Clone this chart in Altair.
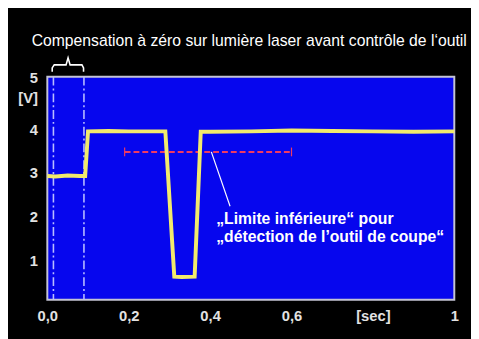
import altair as alt
import pandas as pd

# Signal trace (time in s, voltage in V)
t_vals = [0, 0.02, 0.05, 0.08, 0.093, 0.1, 0.15, 0.2, 0.25, 0.29, 0.312, 0.33, 0.362, 0.377, 0.4, 0.5, 0.6, 0.7, 0.8, 0.9, 1.0]
v_vals = [2.93, 2.92, 2.94, 2.93, 2.93, 3.95, 3.96, 3.95, 3.95, 3.95, 0.63, 0.62, 0.63, 3.94, 3.94, 3.95, 3.97, 3.96, 3.95, 3.94, 3.95]

# zero-compensation window
window_x = [0.015, 0.09]

# lower limit line
limit_y = 3.48
limit_x0, limit_x1 = 0.19, 0.6

# brace above the window
brace_x = [0.012, 0.012, 0.017, 0.046, 0.051, 0.056, 0.085, 0.089, 0.089]
brace_y = [5.31, 5.40, 5.47, 5.47, 5.63, 5.47, 5.47, 5.40, 5.31]

# callout
callout_x = [0.403, 0.449]
callout_y = [3.48, 2.24]
label_lines = ["\u201eLimite inférieure\u201c pour", "\u201edétection de l\u2019outil de coupe\u201c"]
label_y = [1.94, 1.54]
label_x = 0.415

title_text = "Compensation à zéro sur lumière laser avant contrôle de l\u2018outil"
title_x = 0.496
title_y = 6.02

x_ticks = [0, 0.2, 0.4, 0.6, 0.8, 1]
y_ticks = [1, 2, 3, 4, 4.72, 5.17]

FONT = "Liberation Sans"
xs = alt.Scale(domain=[0, 1], nice=False)
ys = alt.Scale(domain=[0.1, 5.2], nice=False)

sig = pd.DataFrame({"t": t_vals, "v": v_vals})
line = alt.Chart(sig).mark_line(color="#f2ea6c", strokeWidth=4, strokeJoin="miter").encode(
    x=alt.X("t:Q", scale=xs, axis=alt.Axis(
        values=x_ticks, title=None, grid=False, domain=False, ticks=False,
        labelExpr="datum.value == 0 ? '0,0' : datum.value > 0.99 ? '1' : datum.value > 0.7 ? '[sec]' : replace(format(datum.value, '.1f'), '.', ',')",
        labelFont=FONT, labelFontSize=15, labelFontWeight="bold", labelColor="#e2e2e2",
        labelPadding=9, labelFlush=False)),
    y=alt.Y("v:Q", scale=ys, axis=alt.Axis(
        values=y_ticks, title=None, grid=False, domain=False, ticks=False,
        labelExpr="datum.value > 5 ? '5' : datum.value > 4.5 ? '[V]' : format(datum.value, 'd')",
        labelFont=FONT, labelFontSize=15, labelFontWeight="bold", labelColor="#e2e2e2",
        labelPadding=10, labelFlush=False)),
)

win = alt.Chart(pd.DataFrame({"x": window_x})).mark_rule(
    color="#b8bcff", strokeWidth=1.6, strokeDash=[9, 3, 2, 3]
).encode(x=alt.X("x:Q", scale=xs))

lim = alt.Chart(pd.DataFrame({"x": [limit_x0], "x2": [limit_x1], "y": [limit_y]})).mark_rule(
    color="#ee3a62", strokeWidth=2, strokeDash=[6, 3]
).encode(x=alt.X("x:Q", scale=xs), x2="x2:Q", y=alt.Y("y:Q", scale=ys))

caps = alt.Chart(pd.DataFrame({"x": [limit_x0, limit_x1], "y": [limit_y - 0.1] * 2, "y2": [limit_y + 0.1] * 2})).mark_rule(
    color="#ee3a62", strokeWidth=1.2
).encode(x=alt.X("x:Q", scale=xs), y=alt.Y("y:Q", scale=ys), y2="y2:Q")

brace = alt.Chart(pd.DataFrame({"x": brace_x, "y": brace_y, "o": list(range(len(brace_x)))})).mark_line(
    color="white", strokeWidth=1.6, interpolate="linear"
).encode(x=alt.X("x:Q", scale=xs), y=alt.Y("y:Q", scale=ys), order="o:O")

callout = alt.Chart(pd.DataFrame({"x": callout_x, "y": callout_y})).mark_line(
    color="white", strokeWidth=1.2
).encode(x=alt.X("x:Q", scale=xs), y=alt.Y("y:Q", scale=ys))

labels = alt.Chart(pd.DataFrame({"x": [label_x] * 2, "y": label_y, "txt": label_lines})).mark_text(
    align="left", baseline="middle", color="white", font=FONT, fontSize=16, fontWeight="bold"
).encode(x=alt.X("x:Q", scale=xs), y=alt.Y("y:Q", scale=ys), text="txt:N")

title = alt.Chart(pd.DataFrame({"x": [title_x], "y": [title_y], "txt": [title_text]})).mark_text(
    align="center", baseline="middle", color="white", font=FONT, fontSize=16
).encode(x=alt.X("x:Q", scale=xs), y=alt.Y("y:Q", scale=ys), text="txt:N")

chart = alt.layer(win, lim, caps, line, callout, labels, brace, title).properties(
    width=414, height=227,
    background="black",
    padding={"left": 40, "top": 67, "right": 17, "bottom": 37},
    autosize=alt.AutoSizeParams(type="none"),
).configure_view(fill="#0606ee", stroke="#c4c4d4", strokeWidth=2)

chart.save("out.html", embed_options={"renderer": "svg", "actions": False})
